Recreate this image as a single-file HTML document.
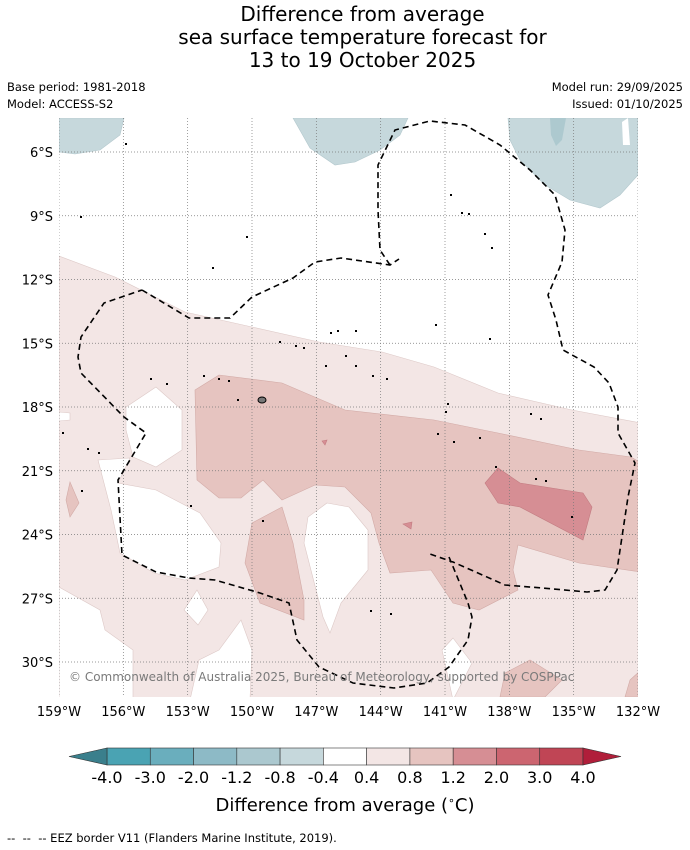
<!DOCTYPE html>
<html><head><meta charset="utf-8"><style>
body{margin:0;background:#fff;font-family:"DejaVu Sans","Liberation Sans",sans-serif;}
#wrap{position:relative;width:690px;height:850px;overflow:hidden;background:#fff}
.t{position:absolute;color:#000;white-space:nowrap}
</style></head><body>
<div id="wrap">
<div class="t" style="left:0;width:725px;top:3px;text-align:center;font-size:20px;line-height:23px">Difference from average<br>sea surface temperature forecast for<br>13 to 19 October 2025</div>
<div class="t" style="left:7px;top:80px;font-size:11.5px">Base period: 1981-2018</div>
<div class="t" style="left:7px;top:97px;font-size:11.5px">Model: ACCESS-S2</div>
<div class="t" style="right:7px;top:80px;font-size:11.5px">Model run: 29/09/2025</div>
<div class="t" style="right:7px;top:97px;font-size:11.5px">Issued: 01/10/2025</div>
<svg id="map" width="690" height="850" style="position:absolute;left:0;top:0">
<defs><clipPath id="clip"><rect x="59" y="118" width="579" height="579"/></clipPath></defs>
<g clip-path="url(#clip)">
<polygon fill="#f3e6e5" stroke="#ddc9c7" stroke-width="0.6" points="59,256 115,277 185,312 252,327 319,342 382,352 434,367 498,393 572,410 641,423 641,700 59,700"/>
<g fill="#fff" stroke="#ddc9c7" stroke-width="0.6">
<polygon points="126,407 156,387 182,410 182,450 156,467 133,457 126,430"/>
<polygon points="98,460 130,458 118,483 156,490 200,513 221,543 219,567 185,580 154,573 120,553 111,510"/>
<polygon points="327,503 349,507 368,530 368,570 341,603 330,633 323,617 304,543 308,517"/>
<polygon points="59,587 100,610 105,630 133,650 133,700 59,700"/>
<polygon points="197,590 208,610 198,625 184,610"/>
<polygon points="241,620 252,650 250,700 190,700 199,660 219,650"/>
<polygon points="453,638 472,663 453,700 442,650"/>
<polygon points="431,467 435,483 427,485"/>
<polygon points="59,412 70,413 70,420 59,421"/>
</g>
<g fill="#e6c4c0" stroke="#d2aaa6" stroke-width="0.6">
<polygon points="195,390 219,375 282,383 345,410 434,420 498,433 579,450 631,457 641,463 641,572 579,563 518,545 513,570 518,590 479,610 453,603 431,570 390,573 379,543 371,513 345,487 315,485 282,500 263,480 241,498 219,498 197,480"/>
<polygon points="252,523 282,507 293,543 304,600 304,620 260,603 245,563"/>
<polygon points="70,482 79,503 70,517 66,500"/>
<polygon points="505,673 530,660 562,680 545,697 500,697"/>
<polygon points="630,680 641,670 641,697 625,697"/>
</g>
<g fill="#d68e94" stroke="#c27b80" stroke-width="0.6">
<polygon points="498,468 520,483 583,493 592,507 583,540 520,507 498,503 485,483"/>
<polygon points="403,524 412,522 411,529"/>
<polygon points="322,441 327,440 325,445"/>
</g>
<g fill="#c6d8dc" stroke="#b3c8cd" stroke-width="0.6">
<polygon points="59,118 124,118 120,135 100,150 75,154 59,152"/>
<polygon points="293,118 408,118 400,135 380,150 355,162 335,165 310,148"/>
<polygon points="508,118 638,118 638,175 620,195 600,208 570,200 545,185 520,160 510,140"/>
</g>
<polygon fill="#adc9cf" points="550,118 566,118 562,140 556,146 551,135"/>
<polygon fill="#fff" points="622,122 628,118 630,145 623,145"/>
<g id="grid"></g>
<path fill="none" stroke="#000" stroke-width="1.6" stroke-dasharray="6,4"
d="M142,290 L189,318 L230,318 L252,297 L293,278 L315,262 L341,258 L390,265 L399,259 M390,265 L380,250 L378,210 L378,165 L395,130 L430,121 L465,125 L500,145 L530,170 L555,195 L565,230 L562,262 L548,295 L556,320 L563,350 L594,367 L609,383 L618,407 L618,433 L635,463 L628,497 L617,570 L605,590 L587,592 L542,588 L505,585 L453,562 L427,553 M449,557 L468,603 L472,617 L468,640 L449,667 L427,683 L394,688 L353,683 L319,667 L297,640 L289,603 L260,593 L215,580 L189,578 L156,572 L122,555 L118,480 L146,433 L124,417 L81,373 L78,357 L81,337 L104,303 L142,290"/>
<g id="isl" fill="#000"></g>
<ellipse cx="262" cy="400" rx="4" ry="3" fill="#777" stroke="#000"/>
</g>
<text x="69" y="681" font-size="12" fill="#7a7a7a" font-family="DejaVu Sans, Liberation Sans, sans-serif">© Commonwealth of Australia 2025, Bureau of Meteorology, supported by COSPPac</text>
<g id="labels" font-size="13" font-family="DejaVu Sans, Liberation Sans, sans-serif"></g>
<g id="cbar"></g>
<text x="345" y="811" text-anchor="middle" font-size="18" font-family="DejaVu Sans, Liberation Sans, sans-serif">Difference from average (<tspan font-size="11" dy="-7">∘</tspan><tspan dy="7">C)</tspan></text>
</svg>
<div class="t" style="left:7px;top:831px;font-size:11.5px">-- &nbsp;-- &nbsp;-- EEZ border V11 (Flanders Marine Institute, 2019).</div>
</div>
<script>
const lonTicks=[159,156,153,150,147,144,141,138,135,132];
const latTicks=[6,9,12,15,18,21,24,27,30];
const cbLabels=["-4.0","-3.0","-2.0","-1.2","-0.8","-0.4","0.4","0.8","1.2","2.0","3.0","4.0"];
const cbColors=["#4aa3b3","#6aaebd","#8dbac6","#abc8cf","#c6d8dc","#ffffff","#f3e6e5","#e6c4c0","#d68e94","#cc6570","#c04555"];
const islands=[[125,143],[80,216],[246,236],[212,267],[450,194],[461,212],[468,213],[484,233],[491,247],[435,324],[489,338],[330,332],[337,330],[355,330],[279,341],[295,345],[303,347],[325,365],[345,355],[355,365],[372,375],[386,378],[203,375],[218,378],[228,380],[237,399],[447,403],[445,411],[437,433],[453,441],[479,437],[495,466],[530,413],[540,418],[535,478],[545,480],[571,516],[81,490],[190,505],[262,520],[370,610],[390,613],[150,378],[166,383],[62,432],[87,448],[98,452]];
const SVGNS="http://www.w3.org/2000/svg";
const xS=lon=>59+(159-lon)*579/27;
const yS=lat=>152+(lat-6)*(510/24);
const grid=document.getElementById('grid'),lab=document.getElementById('labels');
lonTicks.forEach(l=>{const x=xS(l);
 const ln=document.createElementNS(SVGNS,'line');
 
 
 ln.setAttribute('x1',x);ln.setAttribute('x2',x);ln.setAttribute('y1',118);ln.setAttribute('y2',697);
 ln.setAttribute('stroke','#777');ln.setAttribute('stroke-width','0.7');ln.setAttribute('stroke-dasharray','1,2');grid.appendChild(ln);
 const t=document.createElementNS(SVGNS,'text');
 
 
 t.setAttribute('x',x);t.setAttribute('y',716);t.setAttribute('text-anchor','middle');t.textContent=l+'°W';lab.appendChild(t);});
latTicks.forEach(l=>{const y=yS(l);
 const ln=document.createElementNS(SVGNS,'line');
 
 
 ln.setAttribute('x1',59);ln.setAttribute('x2',638);ln.setAttribute('y1',y);ln.setAttribute('y2',y);
 ln.setAttribute('stroke','#777');ln.setAttribute('stroke-width','0.7');ln.setAttribute('stroke-dasharray','1,2');grid.appendChild(ln);
 const t=document.createElementNS(SVGNS,'text');
 
 
 t.setAttribute('x',53);t.setAttribute('y',y+5);t.setAttribute('text-anchor','end');t.textContent=l+'°S';lab.appendChild(t);});
const isl=document.getElementById('isl');
islands.forEach(p=>{const r=document.createElementNS(SVGNS,'rect');
 
 
 r.setAttribute('x',p[0]);r.setAttribute('y',p[1]);r.setAttribute('width',2);r.setAttribute('height',2);isl.appendChild(r);});
const cb=document.getElementById('cbar');const x0=107,w=(583-107)/cbColors.length,y0=748,h=17;
cbColors.forEach((c,i)=>{const r=document.createElementNS(SVGNS,'rect');
 
 
 r.setAttribute('x',x0+i*w);r.setAttribute('y',y0);r.setAttribute('width',w);r.setAttribute('height',h);r.setAttribute('fill',c);r.setAttribute('stroke','#333');r.setAttribute('stroke-width','0.6');cb.appendChild(r);});
[[`${x0},${y0} ${x0},${y0+h} 69,${y0+h/2}`,'#3a7f8c','colorbar-min-arrow'],[`583,${y0} 583,${y0+h} 621,${y0+h/2}`,'#b01e3a','colorbar-max-arrow']].forEach(a=>{
 const p=document.createElementNS(SVGNS,'polygon');
 
 
 p.setAttribute('points',a[0]);p.setAttribute('fill',a[1]);p.setAttribute('stroke','#333');p.setAttribute('stroke-width','0.6');cb.appendChild(p);});
cbLabels.forEach((s,i)=>{const t=document.createElementNS(SVGNS,'text');
 
 
 t.setAttribute('x',x0+i*w);t.setAttribute('y',783);t.setAttribute('text-anchor','middle');t.setAttribute('font-size','16');t.setAttribute('font-family','DejaVu Sans, Liberation Sans, sans-serif');t.textContent=s;cb.appendChild(t);});
</script>
</body></html>
